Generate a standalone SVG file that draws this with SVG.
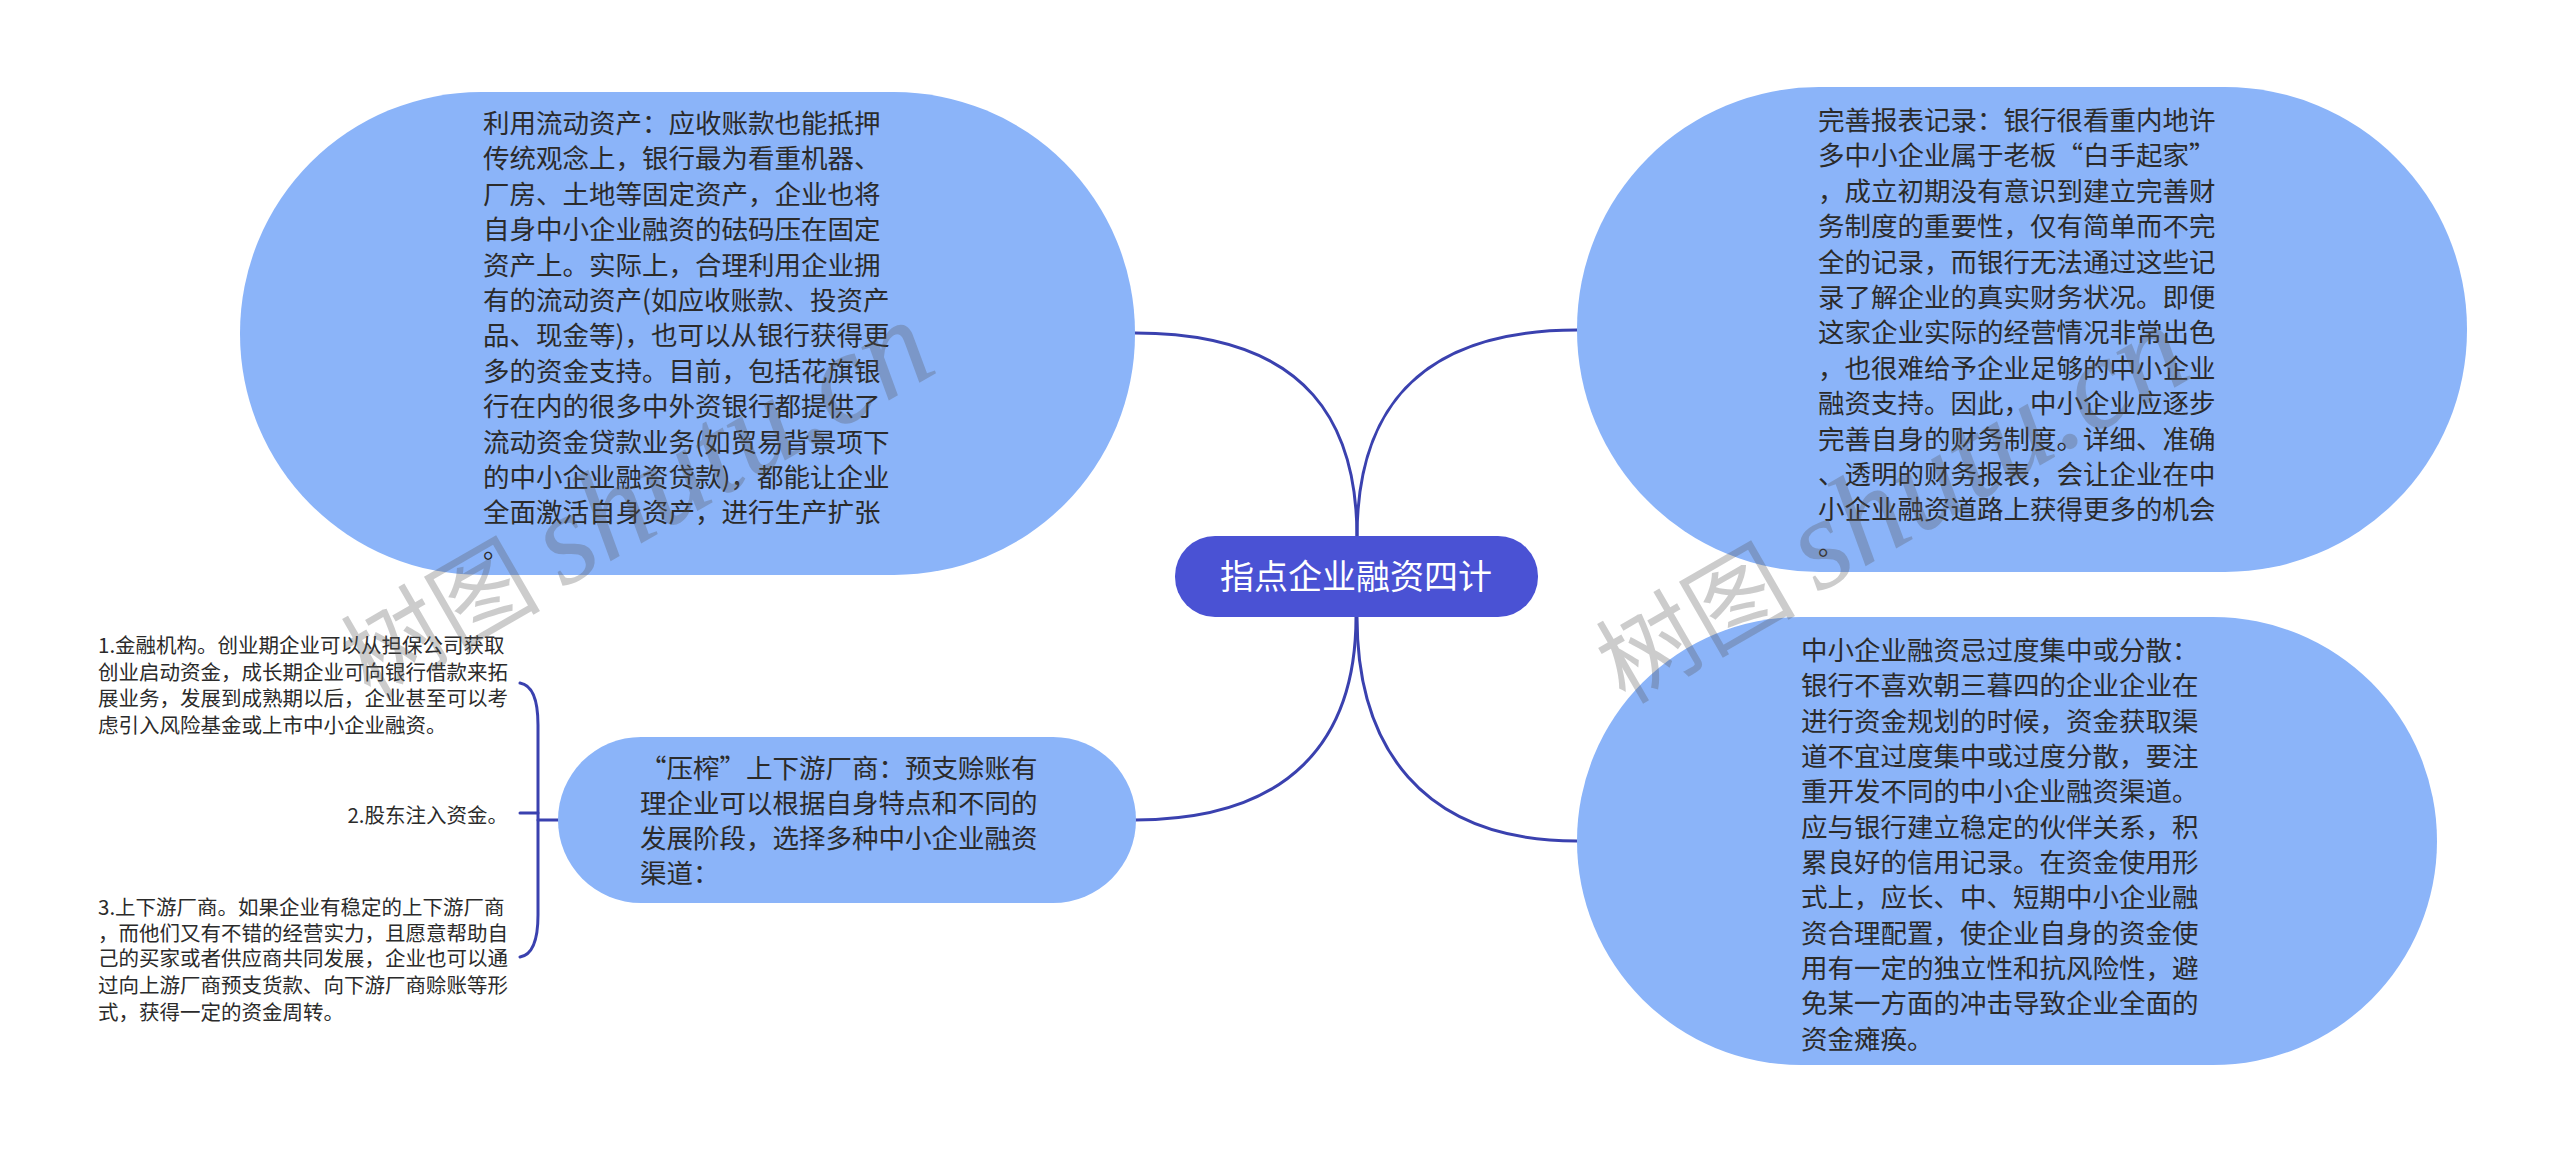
<svg xmlns="http://www.w3.org/2000/svg" width="2560" height="1154" viewBox="0 0 2560 1154">
<style>
.bg{fill:#ffffff}
.node{fill:#8BB4F9}
.root{fill:#4A52D4}
.edge{fill:none;stroke:#3A41AF;stroke-width:3;stroke-linecap:round}
.t{font-family:"Noto Sans CJK SC","Noto Sans",sans-serif;font-size:26.5px;fill:#2b2b2b}
.rt{font-family:"Noto Sans CJK SC","Noto Sans",sans-serif;font-size:34px;fill:#ffffff}
.lt{font-family:"Noto Sans CJK SC","Noto Sans",sans-serif;font-size:20.5px;fill:#2b2b2b}
.wm{font-family:"Noto Sans CJK SC","Liberation Serif",serif;font-size:100px;fill:#555555;fill-opacity:0.3}
.wm2{font-family:"Liberation Serif",serif;font-style:italic;font-size:130px}
</style>
<rect class="bg" x="0" y="0" width="2560" height="1154"/>

<g id="connectors">
<path class="edge" d="M1357,537 C1357,430 1314,333 1135,333"/>
<path class="edge" d="M1357,537 C1357,430 1400,330 1577,330"/>
<path class="edge" d="M1356,617 C1356,740 1290,820 1135,820"/>
<path class="edge" d="M1357,617 C1357,745 1420,841 1577,841"/>
<path class="edge" d="M558,820 L538,820"/>
<path class="edge" d="M520,683 Q538,686 538,725 L538,915 Q538,954 520,957"/>
<path class="edge" d="M538,813 L520,813"/>
</g>

<g id="node-topleft">
<rect class="node" x="240" y="92" width="895" height="483" rx="241" ry="241"/>
<text class="t">
<tspan x="483" y="133">利用流动资产：应收账款也能抵押</tspan>
<tspan x="483" y="168">传统观念上，银行最为看重机器、</tspan>
<tspan x="483" y="204">厂房、土地等固定资产，企业也将</tspan>
<tspan x="483" y="239">自身中小企业融资的砝码压在固定</tspan>
<tspan x="483" y="275">资产上。实际上，合理利用企业拥</tspan>
<tspan x="483" y="310">有的流动资产(如应收账款、投资产</tspan>
<tspan x="483" y="345">品、现金等)，也可以从银行获得更</tspan>
<tspan x="483" y="381">多的资金支持。目前，包括花旗银</tspan>
<tspan x="483" y="416">行在内的很多中外资银行都提供了</tspan>
<tspan x="483" y="452">流动资金贷款业务(如贸易背景项下</tspan>
<tspan x="483" y="487">的中小企业融资贷款)，都能让企业</tspan>
<tspan x="483" y="522">全面激活自身资产，进行生产扩张</tspan>
<tspan x="483" y="558">。</tspan>
</text>
</g>

<g id="node-topright">
<rect class="node" x="1577" y="87" width="890" height="485" rx="242" ry="242"/>
<text class="t">
<tspan x="1818" y="130">完善报表记录：银行很看重内地许</tspan>
<tspan x="1818" y="165">多中小企业属于老板“白手起家”</tspan>
<tspan x="1818" y="201">，成立初期没有意识到建立完善财</tspan>
<tspan x="1818" y="236">务制度的重要性，仅有简单而不完</tspan>
<tspan x="1818" y="272">全的记录，而银行无法通过这些记</tspan>
<tspan x="1818" y="307">录了解企业的真实财务状况。即便</tspan>
<tspan x="1818" y="342">这家企业实际的经营情况非常出色</tspan>
<tspan x="1818" y="378">，也很难给予企业足够的中小企业</tspan>
<tspan x="1818" y="413">融资支持。因此，中小企业应逐步</tspan>
<tspan x="1818" y="449">完善自身的财务制度。详细、准确</tspan>
<tspan x="1818" y="484">、透明的财务报表，会让企业在中</tspan>
<tspan x="1818" y="519">小企业融资道路上获得更多的机会</tspan>
<tspan x="1818" y="555">。</tspan>
</text>
</g>

<g id="node-bottomright">
<rect class="node" x="1577" y="617" width="860" height="448" rx="224" ry="224"/>
<text class="t">
<tspan x="1801" y="660">中小企业融资忌过度集中或分散：</tspan>
<tspan x="1801" y="695">银行不喜欢朝三暮四的企业企业在</tspan>
<tspan x="1801" y="731">进行资金规划的时候，资金获取渠</tspan>
<tspan x="1801" y="766">道不宜过度集中或过度分散，要注</tspan>
<tspan x="1801" y="801">重开发不同的中小企业融资渠道。</tspan>
<tspan x="1801" y="837">应与银行建立稳定的伙伴关系，积</tspan>
<tspan x="1801" y="872">累良好的信用记录。在资金使用形</tspan>
<tspan x="1801" y="907">式上，应长、中、短期中小企业融</tspan>
<tspan x="1801" y="943">资合理配置，使企业自身的资金使</tspan>
<tspan x="1801" y="978">用有一定的独立性和抗风险性，避</tspan>
<tspan x="1801" y="1013">免某一方面的冲击导致企业全面的</tspan>
<tspan x="1801" y="1049">资金瘫痪。</tspan>
</text>
</g>

<g id="node-middle">
<rect class="node" x="558" y="737" width="578" height="166" rx="83" ry="83"/>
<text class="t">
<tspan x="640" y="778">“压榨”上下游厂商：预支赊账有</tspan>
<tspan x="640" y="813">理企业可以根据自身特点和不同的</tspan>
<tspan x="640" y="848">发展阶段，选择多种中小企业融资</tspan>
<tspan x="640" y="883">渠道：</tspan>
</text>
</g>

<g id="node-root">
<rect class="root" x="1175" y="536" width="363" height="81" rx="40" ry="40"/>
<text class="rt" x="1356" y="589" text-anchor="middle">指点企业融资四计</text>
</g>

<g id="leaf-1">
<text class="lt">
<tspan x="98" y="653">1.金融机构。创业期企业可以从担保公司获取</tspan>
<tspan x="98" y="680">创业启动资金，成长期企业可向银行借款来拓</tspan>
<tspan x="98" y="706">展业务，发展到成熟期以后，企业甚至可以考</tspan>
<tspan x="98" y="733">虑引入风险基金或上市中小企业融资。</tspan>
</text>
</g>

<g id="leaf-2">
<text class="lt" x="508" y="823" text-anchor="end">2.股东注入资金。</text>
</g>

<g id="leaf-3">
<text class="lt">
<tspan x="98" y="915">3.上下游厂商。如果企业有稳定的上下游厂商</tspan>
<tspan x="98" y="941">，而他们又有不错的经营实力，且愿意帮助自</tspan>
<tspan x="98" y="966">己的买家或者供应商共同发展，企业也可以通</tspan>
<tspan x="98" y="993">过向上游厂商预支货款、向下游厂商赊账等形</tspan>
<tspan x="98" y="1020">式，获得一定的资金周转。</tspan>
</text>
</g>

<g id="watermarks">
<text class="wm" transform="translate(370,700) rotate(-30)">树图 <tspan class="wm2">shutu.cn</tspan></text>
<text class="wm" transform="translate(1625,705) rotate(-30)">树图 <tspan class="wm2">shutu.cn</tspan></text>
</g>
</svg>
